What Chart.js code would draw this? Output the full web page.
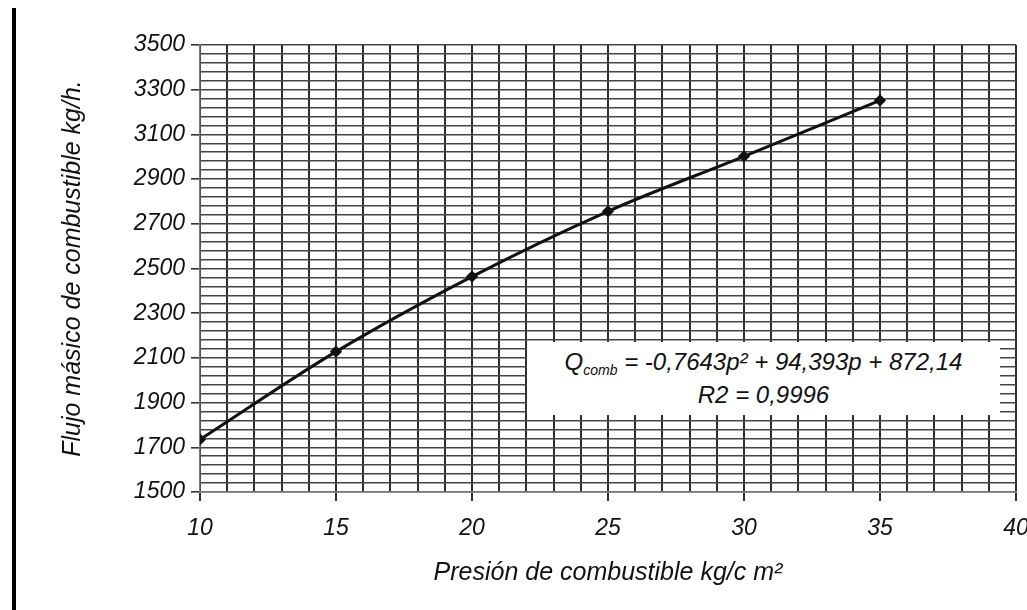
<!DOCTYPE html>
<html>
<head>
<meta charset="utf-8">
<script src="https://cdn.jsdelivr.net/npm/chart.js@4/dist/chart.umd.min.js"></script>
<style>
  html, body { margin: 0; padding: 0; background: #fff; }
  #wrap { position: relative; width: 1027px; height: 610px; overflow: hidden; }
  #bar { position: absolute; left: 12px; top: 8px; width: 4px; height: 602px; background: #000; }
  #eq { position: absolute; left: 527px; top: 342px; width: 473px; height: 73px; background: #fff;
        font-family: "Liberation Sans", Arial, sans-serif; font-style: italic; font-size: 24px;
        color: #111; text-align: center; line-height: 33px; padding-top: 3px; box-sizing: border-box; }
  #eq sub { font-size: 14px; vertical-align: -5px; line-height: 0; }
</style>
</head>
<body>
<div id="wrap">
  <canvas id="c" width="1027" height="610"></canvas>
  <div id="bar"></div>
  <div id="eq">Q<sub>comb</sub> = -0,7643p² + 94,393p + 872,14<br>R2 = 0,9996</div>
</div>
<script>
const presion = [10, 15, 20, 25, 30, 35];
const flujo = [1735, 2128, 2464, 2756, 3002, 3252];
const xMajorTicks = [10, 15, 20, 25, 30, 35, 40];
const yMajorTicks = [1500, 1700, 1900, 2100, 2300, 2500, 2700, 2900, 3100, 3300, 3500];
const xTitle = 'Presión de combustible kg/c m²';
const yTitle = 'Flujo másico de combustible kg/h.';

const FONT = '"Liberation Sans", Arial, sans-serif';
const isMajor = (list, v) => list.includes(Math.round(v));

new Chart(document.getElementById('c'), {
  type: 'scatter',
  data: {
    datasets: [{
      data: presion.map((p, i) => ({ x: p, y: flujo[i] })),
      showLine: true,
      borderColor: '#111',
      borderWidth: 3,
      cubicInterpolationMode: 'monotone',
      pointRadius: 4,
      pointBackgroundColor: '#111',
      pointBorderColor: '#111',
      pointStyle: 'rectRot'
    }]
  },
  options: {
    responsive: false,
    animation: false,
    devicePixelRatio: 1,
    layout: { padding: { left: 0, top: 45, right: 11, bottom: 0 } },
    plugins: { legend: { display: false }, tooltip: { enabled: false } },
    scales: {
      x: {
        type: 'linear', min: 10, max: 40,
        afterFit: s => { s.height = 118; s.paddingRight = 0; s.paddingLeft = 0; },
        ticks: {
          stepSize: 1, autoSkip: false, maxRotation: 0, padding: 14,
          color: '#111', font: { family: FONT, size: 23, style: 'italic' },
          callback: v => isMajor(xMajorTicks, v) ? String(Math.round(v)) : ''
        },
        grid: {
          color: '#2e2e2e', lineWidth: 2, tickLength: 9,
          tickColor: ctx => (ctx.tick && isMajor(xMajorTicks, ctx.tick.value)) ? '#333' : 'rgba(0,0,0,0)'
        },
        border: { display: true, color: '#777', width: 1.5 },
        title: {
          display: true, text: xTitle, color: '#111',
          font: { family: FONT, size: 25, style: 'italic' },
          padding: { top: 0, bottom: 22 }
        }
      },
      y: {
        type: 'linear', min: 1500, max: 3500,
        afterFit: s => { s.width = 200; s.paddingTop = 0; s.paddingBottom = 0; },
        ticks: {
          stepSize: 40, autoSkip: false, padding: 6,
          color: '#111', font: { family: FONT, size: 23, style: 'italic' },
          callback: v => isMajor(yMajorTicks, v) ? String(Math.round(v)) : ''
        },
        grid: {
          color: '#444', lineWidth: 1.6, tickLength: 9,
          tickColor: ctx => (ctx.tick && isMajor(yMajorTicks, ctx.tick.value)) ? '#333' : 'rgba(0,0,0,0)'
        },
        border: { display: true, color: '#777', width: 1.5 },
        title: {
          display: true, text: yTitle, color: '#111',
          font: { family: FONT, size: 25, style: 'italic' },
          padding: { top: 58, bottom: 0 }
        }
      }
    }
  }
});
</script>
</body>
</html>
